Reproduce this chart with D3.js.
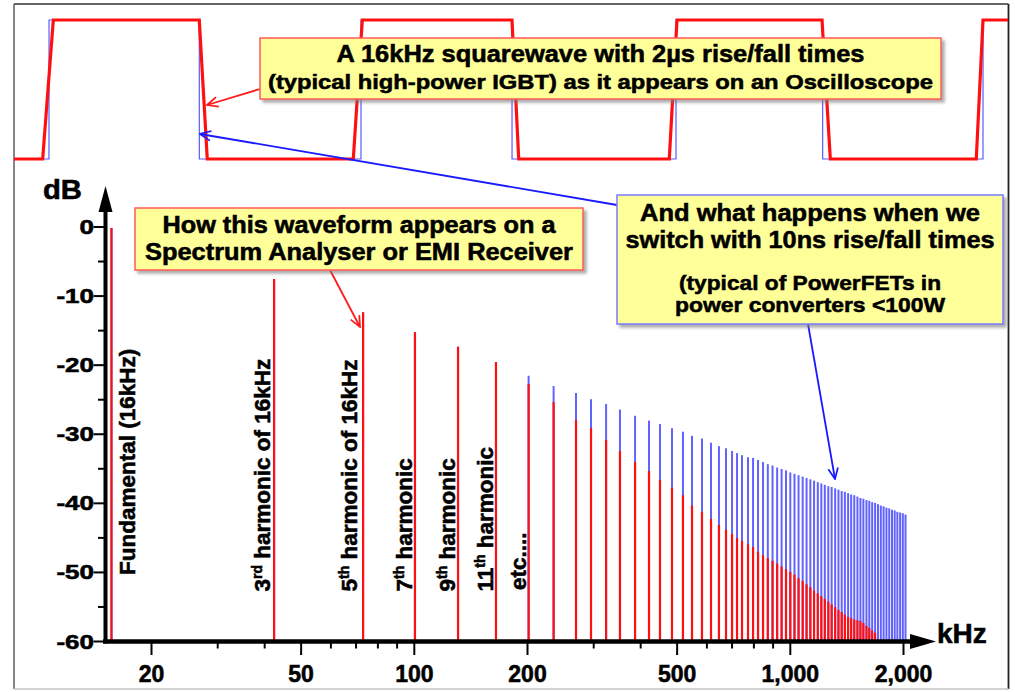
<!DOCTYPE html>
<html><head><meta charset="utf-8">
<script src="https://cdn.jsdelivr.net/npm/d3@7"></script>
<style>
html,body{margin:0;padding:0;background:#fff;}
svg{display:block;}
text.lbl{font-family:"Liberation Sans",Arial,sans-serif;font-weight:bold;fill:#000;stroke:#000;stroke-width:0.55px;}
</style></head><body>
<svg id="chart" width="1015" height="692"></svg>
<script>
// ---------------- DATA ----------------
// Spectral lines (odd harmonics), frequency in kHz
const harmonicFreqKHz = [15.7, 42.5, 73.3, 100.7, 131.1, 165.4, 202.0, 235.4, 270.0, 296.0,
  324.6, 353.4, 387.6, 422.2, 451.6, 486.0, 519.8, 549.4, 584.0, 617.2,
  648.0, 676.6, 702.0, 723.8, 746.2, 774.2, 798.4, 823.2, 848.8, 874,
  899.6, 925.4, 951, 977, 1003, 1029, 1055, 1082, 1108, 1134,
  1160, 1187, 1213, 1239, 1266, 1292, 1320, 1347, 1374, 1401,
  1429, 1456, 1484, 1513, 1541, 1569, 1599, 1627, 1656, 1686,
  1716, 1746, 1776, 1807, 1838, 1870, 1901, 1932, 1965, 1998, 2031];
// 2µs rise/fall (red) levels in dB
const slowEdgeDb = [-0.2, -7.6, -12.4, -15.3, -17.4, -19.6, -22.8, -25.4, -28.0, -29.2,
  -30.9, -32.5, -34.1, -35.4, -36.7, -37.8, -38.9, -40.4, -41.3, -42.3,
  -43.2, -43.9, -44.5, -45.1, -45.5, -46.0, -46.4, -47.1, -47.6, -48.0,
  -48.4, -48.8, -49.2, -49.6, -50.0, -50.4, -50.9, -51.3, -51.8, -52.2,
  -52.7, -53.1, -53.5, -53.9, -54.3, -54.7, -55.1, -55.5, -55.8, -56.2,
  -56.5, -56.7, -56.9, -57.0, -57.1, -57.4, -57.8, -58.1, -58.5, -58.8,
  null, null, null, null, null, null, null, null, null, null, null];
// 10ns rise/fall (blue) levels in dB
const fastEdgeDb = [-0.2, -7.6, -12.4, -15.3, -17.4, -19.6, -21.6, -23.1, -24.1, -25.0,
  -25.7, -26.5, -27.4, -28.1, -28.6, -29.2, -29.7, -30.3, -30.7, -31.3,
  -31.8, -32.1, -32.5, -32.8, -33.1, -33.4, -33.5, -33.8, -34.1, -34.4,
  -34.6, -34.9, -35.1, -35.3, -35.6, -35.8, -36.0, -36.2, -36.4, -36.6,
  -36.8, -37.0, -37.2, -37.4, -37.6, -37.7, -37.9, -38.1, -38.3, -38.4,
  -38.6, -38.8, -38.9, -39.1, -39.3, -39.4, -39.6, -39.7, -39.9, -40.0,
  -40.2, -40.4, -40.5, -40.7, -40.8, -41.0, -41.1, -41.3, -41.4, -41.5, -41.7];

const freqTicks = [20, 50, 100, 200, 500, 1000, 2000];
const freqMinorTicks = [30, 40, 60, 70, 80, 90, 300, 400, 600, 700, 800, 900];
const dbTicks = [0, -10, -20, -30, -40, -50, -60];
const dbMinorTicks = [-5, -15, -25, -35, -45, -55];

// Oscilloscope traces: time (µs) and logic level
const scopeSlowT = [0, 5.77, 7.91, 37.28, 38.89, 68.27, 70.08, 100.2, 101.55, 131.85, 133.4, 162.58, 164.25, 193.62, 194.97, 200];
const scopeSlowLevel = [0, 0, 1, 1, 0, 0, 1, 1, 0, 0, 1, 1, 0, 0, 1, 1];
const scopeFastT = [0, 7.04, 7.05, 37.28, 37.29, 69.82, 69.83, 100.2, 100.21, 133.2, 133.21, 162.7, 162.71, 194.97, 194.98, 200];
const scopeFastLevel = [0, 0, 1, 1, 0, 0, 1, 1, 0, 0, 1, 1, 0, 0, 1, 1];

// Harmonic annotation labels
const labelHarmonicIndex = [0, 1, 2, 3, 4, 5, 6];
const labelMain = ["Fundamental (16kHz)", "3", "5", "7", "9", "11", "etc...."];
const labelSup = ["", "rd", "th", "th", "th", "th", ""];
const labelRest = ["", " harmonic of 16kHz", " harmonic of 16kHz", " harmonic", " harmonic", " harmonic", ""];

const calloutScope = ["A 16kHz squarewave with 2µs rise/fall times", "(typical high-power IGBT) as it appears on an Oscilloscope"];
const calloutSpectrum = ["How this waveform appears on a", "Spectrum Analyser or EMI Receiver"];
const calloutFast = ["And what happens when we", "switch with 10ns rise/fall times", "(typical of PowerFETs in", "power converters <100W"];

// ---------------- DRAWING ----------------
const svg = d3.select("#chart");
const defs = svg.append("defs");
const sh = defs.append("filter").attr("id", "shadow").attr("x", "-10%").attr("y", "-10%").attr("width", "130%").attr("height", "140%");
sh.append("feDropShadow").attr("dx", 3).attr("dy", 3).attr("stdDeviation", 1.8)
  .attr("flood-color", "#777").attr("flood-opacity", 0.6);

function arrowMarker(id, color, size) {
  defs.append("marker").attr("id", id)
    .attr("viewBox", "0 0 12 12").attr("refX", 11).attr("refY", 6)
    .attr("markerWidth", size).attr("markerHeight", size)
    .attr("markerUnits", "userSpaceOnUse").attr("orient", "auto")
    .append("path").attr("d", "M1,1.5 L11,6 L1,10.5")
    .attr("fill", "none").attr("stroke", color).attr("stroke-width", 1.6);
}
arrowMarker("arrRed", "#ff1a1a", 13);
arrowMarker("arrBlue", "#1a1aff", 13);

// frame
const frame = svg.append("g");
frame.append("line").attr("x1", 14).attr("x2", 1008.5).attr("y1", 4).attr("y2", 4).attr("stroke", "#333").attr("stroke-width", 1.3);
frame.append("line").attr("x1", 14).attr("x2", 14).attr("y1", 4).attr("y2", 689).attr("stroke", "#444").attr("stroke-width", 1.3);
frame.append("line").attr("x1", 1008.5).attr("x2", 1008.5).attr("y1", 4).attr("y2", 689).attr("stroke", "#222").attr("stroke-width", 1.8);
frame.append("line").attr("x1", 14).attr("x2", 1008.5).attr("y1", 689).attr("y2", 689).attr("stroke", "#c4c4c4").attr("stroke-width", 1.5);

// ---- oscilloscope traces ----
const tScale = d3.scaleLinear().domain([0, 200]).range([14, 1008]);
const lvlScale = d3.scaleLinear().domain([0, 1]).range([159, 20]);
const traceLine = d3.line().x(d => tScale(d[0])).y(d => lvlScale(d[1]));
svg.append("path").datum(scopeFastT.map((t, i) => [t, scopeFastLevel[i]]))
  .attr("d", traceLine).attr("fill", "none").attr("stroke", "#5a5aff").attr("stroke-width", 1.2);
svg.append("path").datum(scopeSlowT.map((t, i) => [t, scopeSlowLevel[i]]))
  .attr("d", traceLine).attr("fill", "none").attr("stroke", "#ff1010").attr("stroke-width", 3.2)
  .attr("stroke-linejoin", "miter");

// ---- spectrum ----
const x = d3.scaleLog().domain([20, 2000]).range([151, 903]);
const y = d3.scaleLinear().domain([-60, 0]).range([641, 226.5]);
const lines = harmonicFreqKHz.map((f, i) => ({ f, slow: slowEdgeDb[i], fast: fastEdgeDb[i] }));

svg.append("g").selectAll("line").data(lines.filter(d => d.fast != null)).join("line")
  .attr("x1", d => x(d.f)).attr("x2", d => x(d.f))
  .attr("y1", y(-60)).attr("y2", d => y(d.fast))
  .attr("stroke", "#4040ff").attr("stroke-opacity", 0.82).attr("stroke-width", 2);
svg.append("g").selectAll("line").data(lines.filter(d => d.slow != null)).join("line")
  .attr("x1", d => x(d.f)).attr("x2", d => x(d.f))
  .attr("y1", y(-60)).attr("y2", d => y(d.slow))
  .attr("stroke", "#ff1010").attr("stroke-width", 2.2);

// axes
const xAxisG = svg.append("g").attr("transform", `translate(0,${y(-60)})`);
xAxisG.append("g").call(d3.axisBottom(x).tickValues(freqMinorTicks).tickSize(7.5).tickFormat(""))
  .call(g => g.select(".domain").remove())
  .call(g => g.selectAll("line").attr("stroke", "#000").attr("stroke-width", 2));
xAxisG.append("g").call(d3.axisBottom(x).tickValues(freqTicks).tickSize(14).tickFormat(d3.format(",")))
  .call(g => g.select(".domain").remove())
  .call(g => g.selectAll("line").attr("stroke", "#000").attr("stroke-width", 2))
  .call(g => g.selectAll("text").attr("class", "lbl").attr("y", 40.5).attr("dy", null)
    .attr("font-size", 23));

const yAxisG = svg.append("g").attr("transform", "translate(105.5,0)");
yAxisG.append("g").call(d3.axisLeft(y).tickValues(dbMinorTicks).tickSize(7.5).tickFormat(""))
  .call(g => g.select(".domain").remove())
  .call(g => g.selectAll("line").attr("stroke", "#000").attr("stroke-width", 2));
yAxisG.append("g").call(d3.axisLeft(y).tickValues(dbTicks).tickSize(12).tickFormat(""))
  .call(g => g.select(".domain").remove())
  .call(g => g.selectAll("line").attr("stroke", "#000").attr("stroke-width", 2));
svg.append("g").selectAll("text").data(dbTicks).join("text").attr("class", "lbl")
  .attr("transform", d => `translate(94,${y(d) + 7.5}) scale(1.3,1)`)
  .attr("text-anchor", "end").attr("font-size", 20)
  .text(d => d);

// axis lines + arrows
svg.append("line").attr("x1", 105.5).attr("x2", 105.5).attr("y1", 205).attr("y2", 643.5)
  .attr("stroke", "#000").attr("stroke-width", 4);
svg.append("path").attr("d", "M105.5,186 L112.5,212 L98.5,212 Z").attr("fill", "#000");
svg.append("line").attr("x1", 103).attr("x2", 915).attr("y1", 641.5).attr("y2", 641.5)
  .attr("stroke", "#000").attr("stroke-width", 4.5);
svg.append("path").attr("d", "M936,641.5 L910,634 L910,649 Z").attr("fill", "#000");

svg.append("text").attr("class", "lbl").attr("x", 43).attr("y", 199).attr("font-size", 27).attr("textLength", 39)
  .attr("lengthAdjust", "spacingAndGlyphs").text("dB");
svg.append("text").attr("class", "lbl").attr("x", 937).attr("y", 643).attr("font-size", 28).text("kHz");

// rotated harmonic labels
const labelDx = [24, -4, -6, -3, -3, -3, -3];
const labelBottom = [575, 591.5, 591.5, 591.5, 591.5, 591.5, 590];
labelHarmonicIndex.forEach((hi, k) => {
  const g = svg.append("g").attr("transform", `translate(${x(harmonicFreqKHz[hi]) + labelDx[k]},${labelBottom[k]}) rotate(-90)`);
  const t = g.append("text").attr("class", "lbl").attr("font-size", 22.5);
  t.append("tspan").text(labelMain[k]);
  if (labelSup[k]) {
    t.append("tspan").attr("font-size", 14).attr("dy", -8).text(labelSup[k]);
    t.append("tspan").attr("dy", 8).text(labelRest[k]);
  }
});

// ---- arrows ----
function arrow(x1, y1, x2, y2, color, marker) {
  svg.append("line").attr("x1", x1).attr("y1", y1).attr("x2", x2).attr("y2", y2)
    .attr("stroke", color).attr("stroke-width", 1.8).attr("marker-end", `url(#${marker})`);
}
arrow(260, 89, 207, 105, "#ff1a1a", "arrRed");
arrow(330, 270, 360, 327, "#ff1a1a", "arrRed");
arrow(617, 205, 200, 134, "#1a1aff", "arrBlue");
arrow(808, 324, 835, 479, "#1a1aff", "arrBlue");

// ---- callout boxes ----
function callout(bx, by, bw, bh, stroke, cx, textLines, baselines, sizes, lengths) {
  const g = svg.append("g");
  g.append("rect").attr("x", bx).attr("y", by).attr("width", bw).attr("height", bh)
    .attr("fill", "#ffff99").attr("stroke", stroke).attr("stroke-width", 1.5).attr("filter", "url(#shadow)");
  textLines.forEach((s, i) => {
    g.append("text").attr("class", "lbl").attr("x", cx).attr("y", baselines[i]).attr("text-anchor", "middle")
      .attr("font-size", sizes[i]).attr("textLength", lengths[i]).attr("lengthAdjust", "spacingAndGlyphs")
      .text(s);
  });
}
callout(260, 38, 681, 61, "#ff5a5a", 600.5, calloutScope, [62, 89], [24, 21], [528, 665]);
callout(135, 208, 448, 62, "#ff5a5a", 359, calloutSpectrum, [233, 260], [23, 23], [393, 428]);
callout(617, 195, 386, 129, "#7a7aff", 810, calloutFast, [221, 248, 290, 312], [24, 24, 21, 21], [340, 369, 262, 270]);
</script>
</body></html>
